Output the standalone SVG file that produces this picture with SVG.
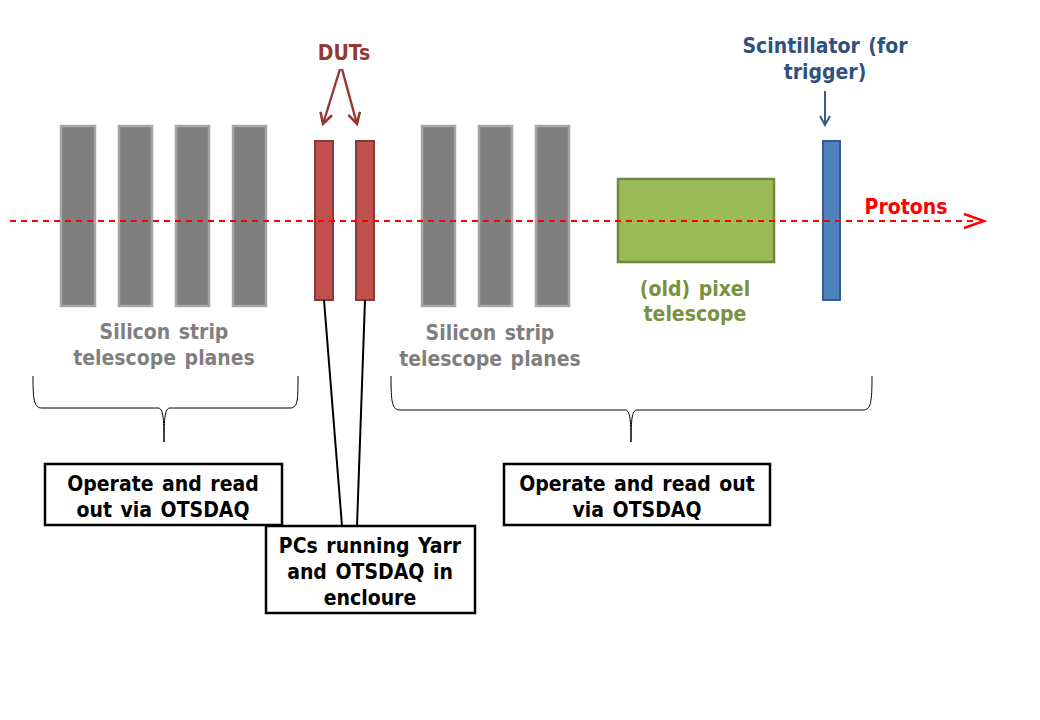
<svg xmlns="http://www.w3.org/2000/svg" width="1040" height="720" viewBox="0 0 1040 720">
<style>
text{font-family:"DejaVu Sans","Liberation Sans",sans-serif;font-weight:bold;font-stretch:condensed;text-anchor:middle;font-size:21px;word-spacing:2px}
.plane{fill:#7f7f7f;stroke:#a6a6a6;stroke-width:2.5}
.dut{fill:#c0504d;stroke:#8c3836;stroke-width:2}
.box{fill:#fff;stroke:#000;stroke-width:2.5}
.brace{fill:none;stroke:#000;stroke-width:1}
.gray{fill:#7f7f7f}
.blk{fill:#000}
</style>
<defs>
<marker id="dutArrow" viewBox="0 0 14 14" refX="12" refY="7" markerWidth="14" markerHeight="14" markerUnits="userSpaceOnUse" orient="auto">
<path d="M1,1 L12,7 L1,13" fill="none" stroke="#953735" stroke-width="2.6"/>
</marker>
<marker id="blueArrow" viewBox="0 0 12 12" refX="10" refY="6" markerWidth="12" markerHeight="12" markerUnits="userSpaceOnUse" orient="auto">
<path d="M1,1 L10,6 L1,11" fill="none" stroke="#385d8a" stroke-width="2"/>
</marker>
</defs>

<rect width="1040" height="720" fill="#fff"/>

<g id="strip-planes-left">
<rect class="plane" x="61" y="126" width="34" height="180"/>
<rect class="plane" x="119" y="126" width="33" height="180"/>
<rect class="plane" x="176" y="126" width="33" height="180"/>
<rect class="plane" x="233" y="126" width="33" height="180"/>
<text class="gray" x="164" y="339">Silicon strip</text>
<text class="gray" x="164" y="365">telescope planes</text>
</g>

<g id="duts">
<rect class="dut" x="315" y="141" width="18" height="159"/>
<rect class="dut" x="356" y="141" width="18" height="159"/>
<text x="344" y="60" fill="#953735">DUTs</text>
</g>

<g id="strip-planes-right">
<rect class="plane" x="422" y="126" width="33" height="180"/>
<rect class="plane" x="479" y="126" width="33" height="180"/>
<rect class="plane" x="536" y="126" width="33" height="180"/>
<text class="gray" x="490" y="340">Silicon strip</text>
<text class="gray" x="490" y="366">telescope planes</text>
</g>

<g id="pixel-telescope">
<rect x="618" y="179" width="156" height="83" fill="#9bbb59" stroke="#71893f" stroke-width="2.5"/>
<text x="695" y="296" fill="#77933c">(old) pixel</text>
<text x="695" y="321" fill="#77933c">telescope</text>
</g>

<g id="scintillator">
<rect x="823" y="141" width="17" height="159" fill="#4f81bd" stroke="#385d8a" stroke-width="2"/>
<text x="825" y="53" fill="#2f5280">Scintillator (for</text>
<text x="825" y="79" fill="#2f5280">trigger)</text>
</g>

<g id="protons">
<text x="906" y="214" fill="#ff0000">Protons</text>
</g>

<g id="box-left">
<rect class="box" x="45" y="464" width="237" height="61"/>
<text class="blk" x="163" y="491">Operate and read</text>
<text class="blk" x="163" y="517">out via OTSDAQ</text>
</g>

<g id="box-right">
<rect class="box" x="504" y="464" width="266" height="61"/>
<text class="blk" x="637" y="491">Operate and read out</text>
<text class="blk" x="637" y="517">via OTSDAQ</text>
</g>

<g id="box-pcs">
<rect class="box" x="266" y="526" width="209" height="87"/>
<text class="blk" x="370" y="553">PCs running Yarr</text>
<text class="blk" x="370" y="579">and OTSDAQ in</text>
<text class="blk" x="370" y="605">encloure</text>
</g>

<g id="connectors">
<line x1="10" y1="221" x2="978" y2="221" stroke="#ff0000" stroke-width="2.2" stroke-dasharray="6,5"/>
<path d="M964,214 L984,221 L964,228" fill="none" stroke="#ff0000" stroke-width="2.4"/>
<line x1="340" y1="69" x2="323" y2="124" stroke="#953735" stroke-width="2.4" marker-end="url(#dutArrow)"/>
<line x1="342" y1="69" x2="357" y2="124" stroke="#953735" stroke-width="2.4" marker-end="url(#dutArrow)"/>
<line x1="825" y1="91" x2="825" y2="125" stroke="#385d8a" stroke-width="2" marker-end="url(#blueArrow)"/>
<line x1="324" y1="300" x2="342" y2="526" stroke="#000" stroke-width="2"/>
<line x1="365" y1="300" x2="357" y2="526" stroke="#000" stroke-width="2"/>
<path class="brace" d="M33,376 C33,400 34,408 42,408 L158,408 C163,408 164,418 164,442 C164,418 165,408 170,408 L290,408 C298,408 298,400 298,376"/>
<path class="brace" d="M391,376 C391,402 392,410 400,410 L625,410 C630,410 631,420 631,442 C631,420 632,410 637,410 L863,410 C871,410 872,402 872,376"/>
</g>
</svg>
